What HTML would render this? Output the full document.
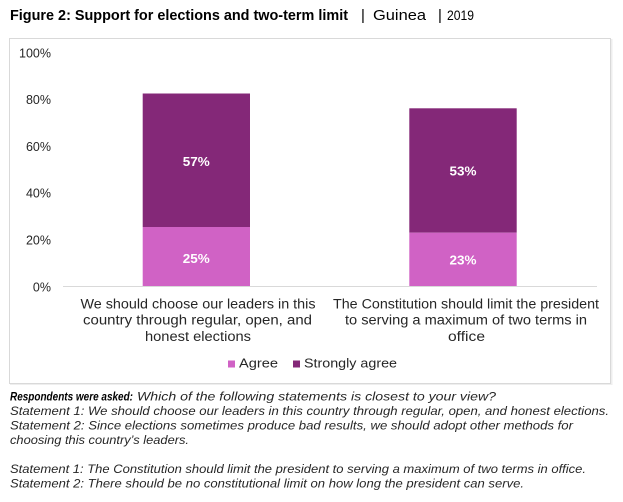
<!DOCTYPE html>
<html>
<head>
<meta charset="utf-8">
<style>
  html, body { margin: 0; padding: 0; background: #ffffff; }
  svg { display: block; }
  text { font-family: "Liberation Sans", "DejaVu Sans", sans-serif; }
</style>
</head>
<body>
<svg width="623" height="502" viewBox="0 0 623 502" xmlns="http://www.w3.org/2000/svg">
  <rect x="0" y="0" width="623" height="502" fill="#ffffff"/>

  <!-- Title -->
  <text x="10" y="20" font-size="15" font-weight="bold" fill="#000000" textLength="338" lengthAdjust="spacingAndGlyphs">Figure 2: Support for elections and two-term limit</text>
  <text x="361" y="20" font-size="15" fill="#000000">|</text>
  <text x="373" y="20" font-size="15" fill="#000000" textLength="53" lengthAdjust="spacingAndGlyphs">Guinea</text>
  <text x="438" y="20" font-size="15" fill="#000000">|</text>
  <text x="447" y="20" font-size="14" fill="#000000" textLength="27" lengthAdjust="spacingAndGlyphs">2019</text>

  <!-- Chart frame -->
  <line x1="611.5" y1="39" x2="611.5" y2="385" stroke="#eeeeee" stroke-width="2"/>
  <line x1="10" y1="384.5" x2="612" y2="384.5" stroke="#eeeeee" stroke-width="1"/>
  <rect x="9.5" y="38.5" width="601" height="345" fill="#ffffff" stroke="#d9d9d9" stroke-width="1"/>

  <!-- Y axis labels -->
  <g font-size="12.5" fill="#262626" text-anchor="end">
    <text x="51" y="57.3">100%</text>
    <text x="51" y="104.1">80%</text>
    <text x="51" y="150.9">60%</text>
    <text x="51" y="197.7">40%</text>
    <text x="51" y="244.5">20%</text>
    <text x="51" y="291.3">0%</text>
  </g>

  <!-- Bars -->
  <rect x="142.7" y="93.5" width="107.3" height="133.5" fill="#842878"/>
  <rect x="142.7" y="227" width="107.3" height="59.5" fill="#D062C5"/>
  <rect x="409.3" y="108.3" width="107.4" height="124.4" fill="#842878"/>
  <rect x="409.3" y="232.7" width="107.4" height="53.8" fill="#D062C5"/>

  <!-- Axis line -->
  <line x1="63" y1="286.5" x2="597" y2="286.5" stroke="#d9d9d9" stroke-width="1"/>

  <!-- Data labels -->
  <g font-size="12.5" font-weight="bold" fill="#ffffff" text-anchor="middle">
    <text x="196.3" y="166" textLength="27" lengthAdjust="spacingAndGlyphs">57%</text>
    <text x="196.3" y="262.8" textLength="27" lengthAdjust="spacingAndGlyphs">25%</text>
    <text x="463" y="175.5" textLength="27" lengthAdjust="spacingAndGlyphs">53%</text>
    <text x="463" y="264.3" textLength="27" lengthAdjust="spacingAndGlyphs">23%</text>
  </g>

  <!-- Category labels -->
  <g font-size="13.5" fill="#262626" text-anchor="middle">
    <text x="198" y="308.3" textLength="235" lengthAdjust="spacingAndGlyphs">We should choose our leaders in this</text>
    <text x="197.5" y="324.5" textLength="229" lengthAdjust="spacingAndGlyphs">country through regular, open, and</text>
    <text x="198" y="340.8" textLength="106" lengthAdjust="spacingAndGlyphs">honest elections</text>
    <text x="466" y="308.3" textLength="266" lengthAdjust="spacingAndGlyphs">The Constitution should limit the president</text>
    <text x="466" y="324.5" textLength="242" lengthAdjust="spacingAndGlyphs">to serving a maximum of two terms in</text>
    <text x="466.5" y="340.8" textLength="37" lengthAdjust="spacingAndGlyphs">office</text>
  </g>

  <!-- Legend -->
  <rect x="228" y="360.5" width="7" height="7" fill="#D062C5"/>
  <text x="239" y="367.5" font-size="12.5" fill="#262626" textLength="39" lengthAdjust="spacingAndGlyphs">Agree</text>
  <rect x="293" y="360.5" width="7" height="7" fill="#842878"/>
  <text x="304" y="367.5" font-size="12.5" fill="#262626" textLength="93" lengthAdjust="spacingAndGlyphs">Strongly agree</text>

  <!-- Footnotes -->
  <g font-size="11.5" font-style="italic" fill="#262626">
    <text x="10" y="400.7" font-weight="bold" fill="#000000" font-size="11.5" textLength="123" lengthAdjust="spacingAndGlyphs">Respondents were asked:</text>
    <text x="137" y="400.7" textLength="359" lengthAdjust="spacingAndGlyphs">Which of the following statements is closest to your view?</text>
    <text x="10" y="415.2" textLength="599" lengthAdjust="spacingAndGlyphs">Statement 1: We should choose our leaders in this country through regular, open, and honest elections.</text>
    <text x="10" y="429.7" textLength="563" lengthAdjust="spacingAndGlyphs">Statement 2: Since elections sometimes produce bad results, we should adopt other methods for</text>
    <text x="10" y="444.2" textLength="179" lengthAdjust="spacingAndGlyphs">choosing this country’s leaders.</text>
    <text x="10" y="473.2" textLength="576" lengthAdjust="spacingAndGlyphs">Statement 1: The Constitution should limit the president to serving a maximum of two terms in office.</text>
    <text x="10" y="487.7" textLength="514" lengthAdjust="spacingAndGlyphs">Statement 2: There should be no constitutional limit on how long the president can serve.</text>
  </g>
</svg>
</body>
</html>
